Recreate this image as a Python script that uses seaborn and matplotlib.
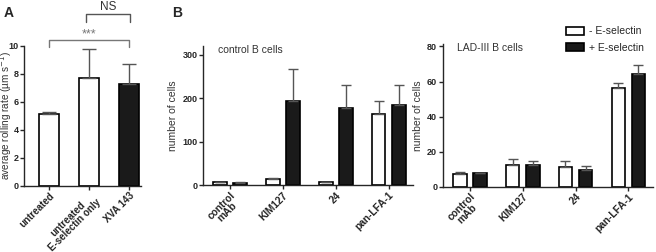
import numpy as np
import pandas as pd
import seaborn as sns
import matplotlib.pyplot as plt
from matplotlib.patches import Patch

# panel A data
a_labels = ["untreated", "untreated\nE-selectin only", "XVA 143"]
a_mean = [5.15, 7.73, 7.28]
a_err = [0.1, 2.03, 1.44]

# panel B data
groups = ["control\nmAb", "KIM127", "24", "pan-LFA-1"]
hue_labels = ["- E-selectin", "+ E-selectin"]
ctrl_minus = [7, 14, 7, 164]
ctrl_minus_err = [2, 3, 2, 31]
ctrl_plus = [6, 195, 178, 184]
ctrl_plus_err = [1, 72, 52, 47]
lad_minus = [7.2, 12.5, 11.4, 56.6]
lad_minus_err = [1.0, 3.6, 3.0, 2.3]
lad_plus = [7.6, 12.2, 9.3, 64.2]
lad_plus_err = [0.4, 2.4, 2.6, 5.3]

sns.set_style("ticks")
plt.rcParams['font.family'] = ['Liberation Sans', 'DejaVu Sans']
plt.rcParams['axes.linewidth'] = 1.0
plt.rcParams['xtick.major.size'] = 3
plt.rcParams['ytick.major.size'] = 3

fig = plt.figure(figsize=(6.56, 2.52), dpi=100)
ax_a = fig.add_axes([0.037, 0.262, 0.178, 0.556])
ax_b1 = fig.add_axes([0.3095, 0.264, 0.32, 0.553])
ax_b2 = fig.add_axes([0.675, 0.259, 0.32, 0.567])

errc = "#555555"
txtc = "#333333"


def up_errors(ax, bars, errs, capw):
    xs = [b.get_x() + b.get_width() / 2 for b in bars]
    ys = [b.get_height() for b in bars]
    ax.errorbar(xs, ys, yerr=[np.zeros(len(errs)), errs], fmt="none",
                ecolor=errc, elinewidth=1.0, capsize=capw, capthick=1.0, zorder=1)


# ---- panel A
dfa = pd.DataFrame({"cond": a_labels, "rate": a_mean})
sns.barplot(data=dfa, x="cond", y="rate", hue="cond", ax=ax_a,
            palette=["white", "white", "#1a1a1a"], edgecolor="black",
            linewidth=1.2, width=0.5, errorbar=None, legend=False)
up_errors(ax_a, ax_a.patches, a_err, 5)
ax_a.set_xlim(-0.63, 2.3)
ax_a.set_ylim(0, 10)
ax_a.set_yticks([0, 2, 4, 6, 8, 10])
ax_a.set_xlabel("")
ax_a.set_ylabel("average rolling rate (µm s$^{-1}$)", fontsize=7.2, color=txtc)
ax_a.yaxis.set_label_coords(-0.085, 0.5)

# significance brackets
ax_a.plot([0, 0, 2, 2], [9.93, 10.43, 10.43, 9.93], color="#777777", lw=1, clip_on=False)
ax_a.text(1, 10.8, "***", ha="center", va="center", fontsize=9, color="#777777")
ax_a.plot([0.92, 0.92, 2.02, 2.02], [11.72, 12.27, 12.27, 11.72], color="#555555", lw=1, clip_on=False)
ax_a.text(1.47, 12.8, "NS", ha="center", va="center", fontsize=8.5, color=txtc)


# ---- panel B
def panel_b(ax, minus, minus_err, plus, plus_err, ymax, yt, title):
    df = pd.DataFrame({
        "group": groups * 2,
        "cond": [hue_labels[0]] * 4 + [hue_labels[1]] * 4,
        "n": minus + plus,
    })
    sns.barplot(data=df, x="group", y="n", hue="cond", ax=ax,
                palette=["white", "#1a1a1a"], edgecolor="black", linewidth=1.2,
                width=0.76, gap=0.32, errorbar=None, legend=False)
    up_errors(ax, ax.containers[0], minus_err, 3.5)
    up_errors(ax, ax.containers[1], plus_err, 3.5)
    ax.set_xlim(-0.51, 3.46)
    ax.set_ylim(0, ymax)
    ax.set_yticks(yt)
    ax.set_xlabel("")
    ax.set_ylabel("number of cells", fontsize=7.5, color=txtc, labelpad=3)
    ax.text(0.07, 0.97, title, transform=ax.transAxes, fontsize=7.5,
            color=txtc, ha="left", va="center")


panel_b(ax_b1, ctrl_minus, ctrl_minus_err, ctrl_plus, ctrl_plus_err,
        320, [0, 100, 200, 300], "control B cells")
panel_b(ax_b2, lad_minus, lad_minus_err, lad_plus, lad_plus_err,
        81.5, [0, 20, 40, 60, 80], "LAD-III B cells")

for ax in (ax_a, ax_b1, ax_b2):
    sns.despine(ax=ax)
    ax.tick_params(axis="y", labelsize=6.5, pad=1, width=1)
    ax.tick_params(axis="x", labelsize=7.3 if ax is not ax_a else 7.0, pad=0.5, width=1)
    for lab in ax.get_yticklabels():
        lab.set_fontweight("bold")
    for lab in ax.get_xticklabels():
        lab.set_fontweight("bold")
        lab.set_rotation(45)
        lab.set_ha("right")
        lab.set_rotation_mode("anchor")
        lab.set_multialignment("center")
        lab.set_linespacing(0.85)

handles = [Patch(facecolor="white", edgecolor="black", linewidth=1.2),
           Patch(facecolor="#1a1a1a", edgecolor="black", linewidth=1.2)]
fig.legend(handles, hue_labels, loc="center left", bbox_to_anchor=(0.855, 0.843),
           frameon=False, fontsize=7.5, handlelength=1.7, handleheight=0.9,
           handletextpad=0.5, labelspacing=0.6, borderpad=0)

fig.text(0.006, 0.95, "A", fontsize=10, fontweight="bold", va="center")
fig.text(0.262, 0.95, "B", fontsize=10, fontweight="bold", va="center")

fig.savefig("out.png", dpi=100)
